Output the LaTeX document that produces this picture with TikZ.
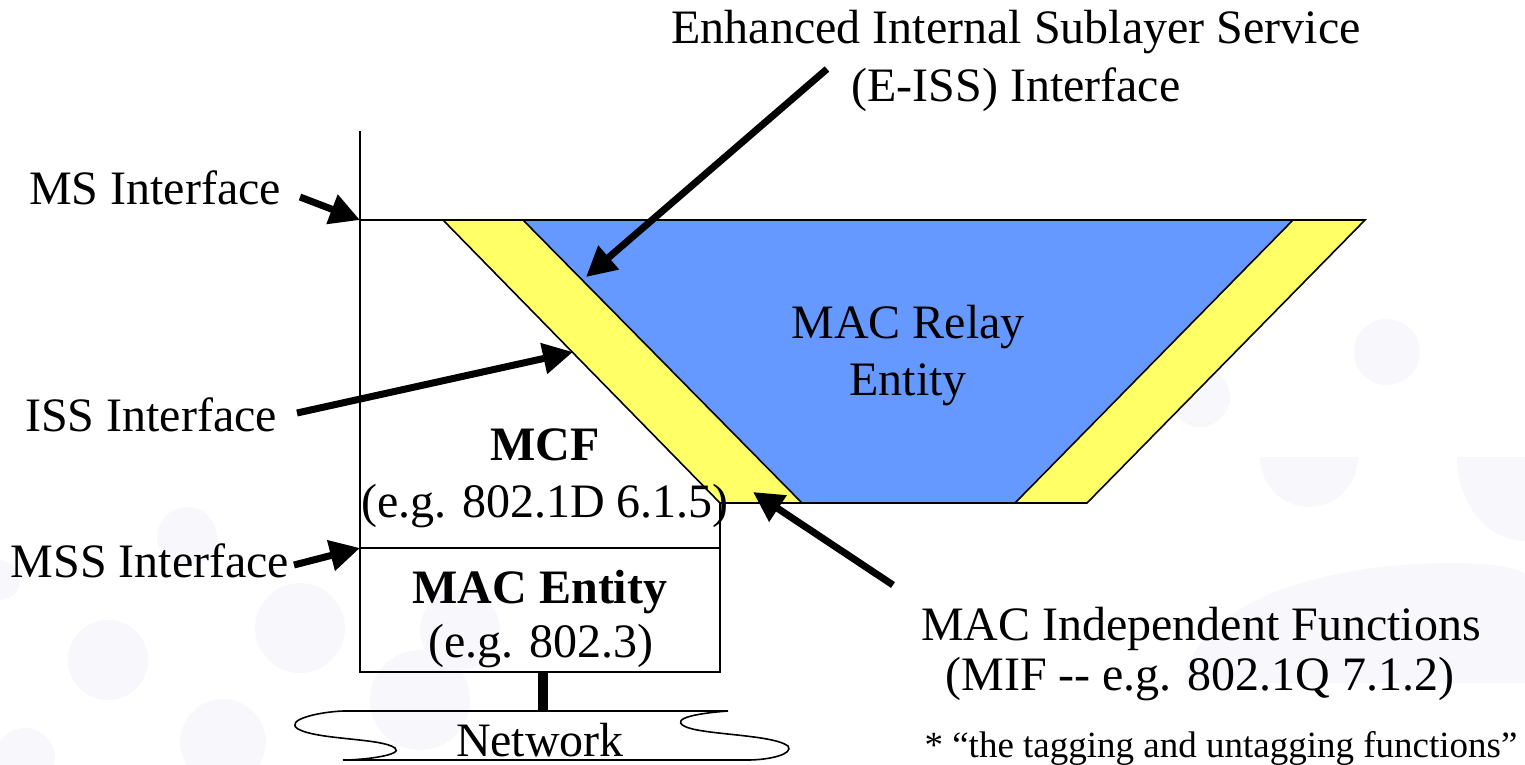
\documentclass[tikz,border=0pt]{standalone}
\usepackage{fontspec}
\setmainfont{Liberation Serif}
\usetikzlibrary{arrows.meta}
\definecolor{relayblue}{HTML}{6699FF}
\definecolor{mifyellow}{HTML}{FFFF66}
\definecolor{wmark}{RGB}{248,247,251}
\tikzset{
  lbl/.style={font=\fontsize{48}{57}\selectfont, anchor=base, inner sep=0pt},
  boldlbl/.style={lbl, font=\fontsize{48}{57}\selectfont\bfseries},
  notelbl/.style={font=\fontsize{37}{44}\selectfont, anchor=base, inner sep=0pt},
  thin/.style={draw=black, line width=1.6pt},
  pointer/.style={line width=7pt, -{Triangle[length=30pt,width=30pt]}},
  blob/.style={fill=wmark, draw=none}
}
\begin{document}
\begin{tikzpicture}[x=1pt,y=-1pt]
\useasboundingbox (0,0) rectangle (1525,764);

% faint background pattern
\fill[blob] (108,660) circle (40);
\fill[blob] (300,628) circle (45);
\fill[blob] (187,537) circle (30);
\fill[blob] (223,742) circle (43);
\fill[blob] (420,700) circle (50);
\fill[blob] (25,758) circle (30);
\fill[blob] (0,580) circle (20);
\fill[blob] (460,630) circle (40);
\fill[blob] (1387,352) circle (33);
\fill[blob] (1200,397) circle (30);
\fill[blob] (1260,457) arc[start angle=180,end angle=0,x radius=49,y radius=50] -- cycle;
\fill[blob] (1457,457) arc[start angle=180,end angle=90,x radius=68,y radius=84] -- (1525,457) -- cycle;
\fill[blob] (1183,683) .. controls (1200,590) and (1350,563) .. (1450,563) .. controls (1500,563) and (1525,570) .. (1525,575) -- (1525,683) -- cycle;

% MAC independent functions band and relay entity
\filldraw[thin, fill=mifyellow] (443,220) -- (1365,220) -- (1087,503) -- (720,503) -- cycle;
\filldraw[thin, fill=relayblue] (523,220) -- (1293,220) -- (1015,503) -- (802,503) -- cycle;

% port stack
\coordinate (stacktop) at (360,131);
\coordinate (msif) at (360,220);
\coordinate (mssif) at (360,548);
\coordinate (stackbl) at (360,672);
\coordinate (stackbr) at (720,672);
\coordinate (mcfr) at (720,503);
\coordinate (msssplit) at (720,548);
\coordinate (yelltl) at (443,220);
\draw[thin] (stacktop) -- (stackbl) -- (stackbr) -- (mcfr);
\draw[thin] (msif) -- (yelltl);
\draw[thin] (mssif) -- (msssplit);

% network attachment
\coordinate (netup) at (543,672);
\coordinate (netdn) at (543,712);
\draw[line width=10pt] (netup) -- (netdn);
\draw[thin] (343,711) -- (728,711)
  .. controls (700,713) and (670,718) .. (684,726)
  .. controls (700,735) and (772,734) .. (788,746)
  .. controls (794,754) and (770,760) .. (747,760)
  -- (343,760)
  .. controls (364,760) and (404,755) .. (395,748)
  .. controls (382,738) and (318,740) .. (298,729)
  .. controls (284,720) and (318,712) .. (343,711) -- cycle;
\node[lbl] (net) at (540,756) {Network};

% texts
\node[lbl] (eiss1) at (1016,43) {Enhanced Internal Sublayer Service};
\node[lbl] (eiss2) at (1016,101) {(E-ISS) Interface};
\node[lbl] (ms) at (155,204) {MS Interface};
\node[lbl] (iss) at (151,431) {ISS Interface};
\node[lbl] (mss) at (150,577) {MSS Interface};
\node[boldlbl] (mcf) at (545,460) {MCF};
\node[lbl] (mcfref) at (545,517) {(e.g. 802.1D 6.1.5)};
\node[boldlbl] (mac) at (540,603) {MAC Entity};
\node[lbl] (macref) at (541,657) {(e.g. 802.3)};
\node[lbl] (relay1) at (908,338) {MAC Relay};
\node[lbl] (relay2) at (908,395) {Entity};
\node[lbl] (mif1) at (1201,640) {MAC Independent Functions};
\node[lbl] (mif2) at (1200,690) {(MIF -{}- e.g. 802.1Q 7.1.2)};
\node[notelbl] (note) at (1221,757) {* \char"201C the tagging and untagging functions\char"201D};

% pointers
\coordinate (msT) at (300,197);
\coordinate (eissT) at (827,69);
\coordinate (eissH) at (586,277);
\coordinate (issT) at (297,413);
\coordinate (issH) at (573,352);
\coordinate (mssT) at (294,565);
\coordinate (mifT) at (893,585);
\coordinate (mifH) at (753,492);
\draw[pointer] (msT) -- (msif);
\draw[pointer] (eissT) -- (eissH);
\draw[pointer] (issT) -- (issH);
\draw[pointer] (mssT) -- (mssif);
\draw[pointer] (mifT) -- (mifH);
\end{tikzpicture}
\end{document}
